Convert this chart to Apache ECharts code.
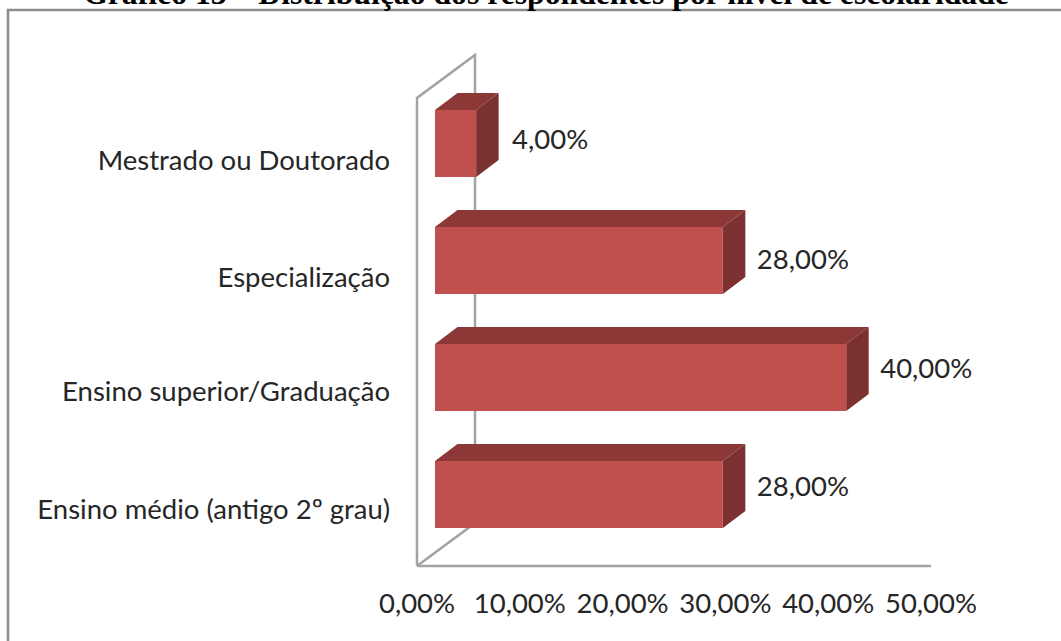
<!DOCTYPE html>
<html><head><meta charset="utf-8">
<style>html,body{margin:0;padding:0;background:#fff}#c{width:1061px;height:641px}#c text{font-variant-ligatures:none}</style>
<script src="https://cdn.jsdelivr.net/npm/echarts@6/dist/echarts.min.js"></script>
</head><body><div id="c"></div>
<script>
const categories = ['Ensino médio (antigo 2º grau)','Ensino superior/Graduação','Especialização','Mestrado ou Doutorado'];
const values = [28, 40, 28, 4];
const valueLabelNudgeY = [-9, -10, -2, -5];
const valueLabelNudgeX = [34, 34, 34, 36];
const categoryLabelNudgeY = [1, 0, 3, 3];
const titleText = 'Gráfico 13 – Distribuição dos respondentes por nível de escolaridade';
const valueMin = 0, valueMax = 50, valueStep = 10;

const FONT = 'Lato';
const WALL = [58, -43];
const FRONT = [18, -13];
const DEPTH = [22.5, -17];
const BAR_H = 67;
const WALL_COLOR = '#a3a3a3';
const TEXT_COLOR = '#262626';
const LABEL_SIZE = 27.5;

const chart = echarts.init(document.getElementById('c'), null, {renderer:'svg'});

function wallItem(params, api){
  const cs = params.coordSys;
  const x0 = cs.x, y0 = cs.y, x1 = cs.x + cs.width, y1 = cs.y + cs.height;
  const style = {stroke: WALL_COLOR, lineWidth: 2.5, fill: null};
  return {type:'group', children:[
    {type:'polyline', shape:{points:[[x0,y1],[x0,y0],[x0+WALL[0],y0+WALL[1]],[x0+WALL[0],y1+WALL[1]],[x0,y1]]}, style},
    {type:'line', shape:{x1:x0,y1:y1,x2:x1,y2:y1}, style}
  ]};
}
function barItem(params, api){
  const i = params.dataIndex;
  const v = api.value(0), cat = api.value(1);
  const start = api.coord([valueMin, cat]);
  const end = api.coord([v, cat]);
  const xL = start[0] + FRONT[0], xR = end[0] + FRONT[0];
  const cy = start[1] + FRONT[1];
  const yT = cy - BAR_H/2, yB = cy + BAR_H/2;
  const dx = DEPTH[0], dy = DEPTH[1];
  return {type:'group', children:[
    {type:'polygon', shape:{points:[[xL,yT],[xR,yT],[xR+dx,yT+dy],[xL+dx,yT+dy]]}, style:{fill:'#8c3836'}},
    {type:'polygon', shape:{points:[[xR,yT],[xR+dx,yT+dy],[xR+dx,yB+dy],[xR,yB]]}, style:{fill:'#7b3130'}},
    {type:'rect', shape:{x:xL,y:yT,width:xR-xL,height:BAR_H}, style:{fill:'#c0504d'}},
    {type:'text', x:xR+valueLabelNudgeX[i], y:cy+valueLabelNudgeY[i],
      style:{text:v.toFixed(2).replace('.',',')+'%', fill:TEXT_COLOR, font:LABEL_SIZE+'px '+FONT, textAlign:'left', textVerticalAlign:'middle'}},
    {type:'text', x:start[0]-27, y:start[1]+categoryLabelNudgeY[i],
      style:{text:categories[i], fill:TEXT_COLOR, font:LABEL_SIZE+'px '+FONT, textAlign:'right', textVerticalAlign:'middle'}}
  ]};
}

chart.setOption({
  animation:false,
  backgroundColor:'#fff',
  title:{text:titleText,left:541,textAlign:'center',top:-28,textStyle:{fontFamily:'Liberation Serif',fontWeight:'bold',fontSize:31.7,color:'#000'}},
  grid:{left:417,right:130,top:98,bottom:75,containLabel:false},
  xAxis:{type:'value',min:valueMin,max:valueMax,interval:valueStep,splitLine:{show:false},axisTick:{show:false},axisLine:{show:false},
    axisLabel:{formatter:v=>v.toFixed(2).replace('.',',')+'%',fontFamily:FONT,fontSize:LABEL_SIZE,color:TEXT_COLOR,margin:22,hideOverlap:false,showMinLabel:true,showMaxLabel:true}},
  yAxis:{type:'category',data:categories,splitLine:{show:false},axisTick:{show:false},axisLine:{show:false},axisLabel:{show:false}},
  series:[
    {type:'custom',silent:true,renderItem:wallItem,data:[[0,0]],encode:{x:0,y:1},z:1},
    {type:'custom',renderItem:barItem,data:values.map((v,i)=>[v,i]),encode:{x:0,y:1},z:2}
  ],
  graphic:[{type:'polyline',shape:{points:[[8,641],[8,10],[1061,10]]},style:{stroke:'#8c8c8c',fill:null,lineWidth:2.5},z:0}]
});
</script></body></html>
